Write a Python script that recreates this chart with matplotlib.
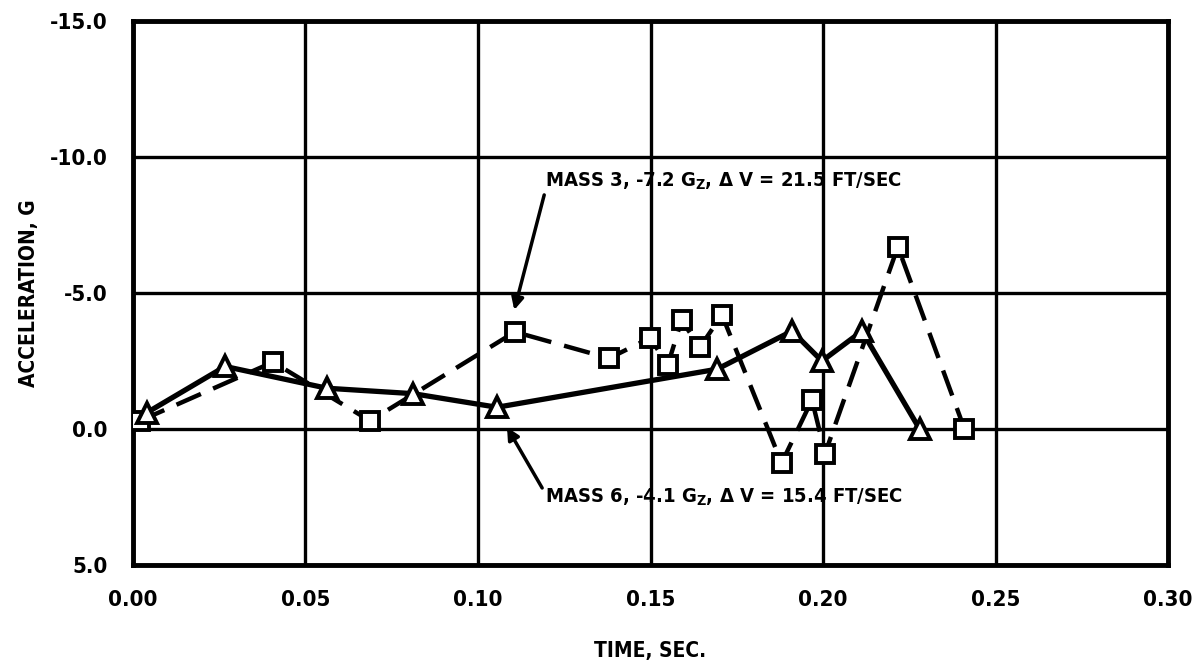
import matplotlib
matplotlib.use("Agg")
import matplotlib.pyplot as plt

# mass 6 (solid, triangles)
t_mass6 = [0.004, 0.0267, 0.0562, 0.0812, 0.1055, 0.1693, 0.191, 0.1997, 0.2113, 0.228]
g_mass6 = [-0.6, -2.3, -1.5, -1.3, -0.8, -2.2, -3.6, -2.5, -3.6, 0.0]

# mass 3 (dashed, squares)
t_mass3 = [0.002, 0.0406, 0.0687, 0.1107, 0.138, 0.1499, 0.155, 0.159, 0.1643,
           0.1707, 0.188, 0.1968, 0.2006, 0.2217, 0.241]
g_mass3 = [-0.3, -2.46, -0.3, -3.57, -2.6, -3.35, -2.35, -4.0, -3.0,
           -4.2, 1.25, -1.07, 0.9, -6.7, 0.0]

xticks = [0.00, 0.05, 0.10, 0.15, 0.20, 0.25, 0.30]
yticks = [-15.0, -10.0, -5.0, 0.0, 5.0]

plt.rcParams["font.family"] = ["DejaVu Sans"]
plt.rcParams["font.stretch"] = "condensed"
plt.rcParams["font.weight"] = "bold"
plt.rcParams["mathtext.default"] = "bf"


def main():
    fig = plt.figure(figsize=(11.96, 6.61), dpi=100)
    ax = fig.add_axes([0.1112, 0.1452, 0.8654, 0.823])

    ax.plot(t_mass6, g_mass6, color="black", lw=3.8, marker="^", ms=15,
            mfc="white", mec="black", mew=2.8, zorder=4)
    ax.plot(t_mass3, g_mass3, color="black", lw=3.2, ls=(0, (6, 3)),
            marker="s", ms=13, mfc="white", mec="black", mew=2.8, zorder=3)

    ax.set_xlim(0, 0.30)
    ax.set_ylim(5.0, -15.0)
    ax.set_xticks(xticks)
    ax.set_yticks(yticks)
    ax.set_xticklabels([f"{v:.2f}" for v in xticks])
    ax.set_yticklabels([f"{v:.1f}" for v in yticks])
    ax.grid(True, color="black", lw=2.4)
    ax.set_axisbelow(True)
    for s in ax.spines.values():
        s.set_linewidth(3.5)
    ax.tick_params(length=0, pad=18, labelsize=16)
    for lab in ax.get_xticklabels() + ax.get_yticklabels():
        lab.set_fontweight("bold")
        lab.set_fontstretch("condensed")

    ax.set_xlabel("TIME, SEC.", fontsize=15, fontweight="bold", labelpad=22)
    ax.set_ylabel("ACCELERATION, G", fontsize=15, fontweight="bold", labelpad=8)

    arrow = dict(arrowstyle="-|>", color="black", lw=2.5, mutation_scale=18,
                 shrinkA=0, shrinkB=6)
    ax.annotate("MASS 3, -7.2 G$_{Z}$, \u0394 V = 21.5 FT/SEC",
                xy=(0.1099, -4.08), xytext=(0.1194, -9.1),
                fontsize=14.5, fontweight="bold", va="center", ha="left",
                arrowprops=dict(arrow, relpos=(0.0, 0.0)))
    ax.annotate("MASS 6, -4.1 G$_{Z}$, \u0394 V = 15.4 FT/SEC",
                xy=(0.1072, -0.33), xytext=(0.1194, 2.5),
                fontsize=14.5, fontweight="bold", va="center", ha="left",
                arrowprops=dict(arrow, relpos=(0.0, 0.7)))

    fig.savefig("out.png", dpi=100, facecolor="white")


if __name__ == "__main__":
    main()
